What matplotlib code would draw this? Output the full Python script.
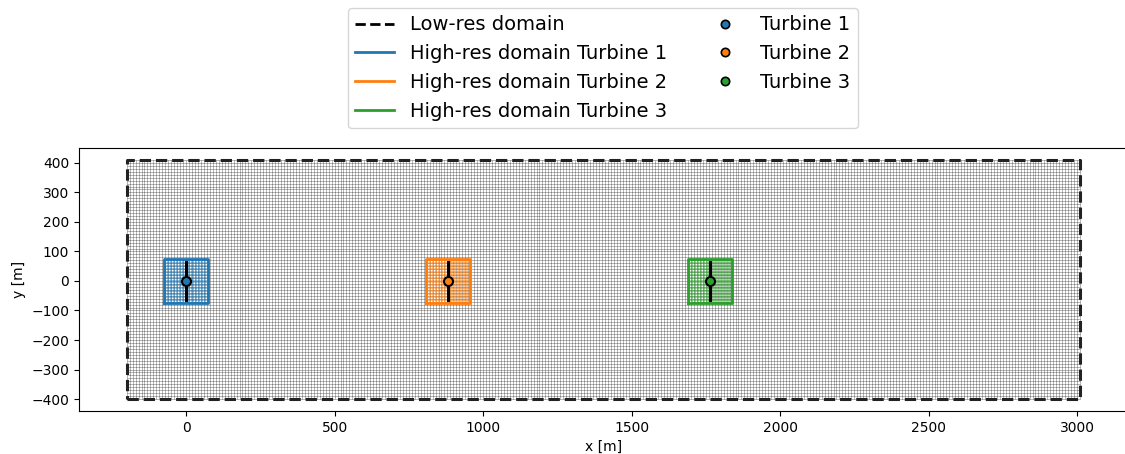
import matplotlib
matplotlib.use("Agg")
import matplotlib.pyplot as plt
import numpy as np
from matplotlib.lines import Line2D

# low-res domain (m)
x_low = np.arange(-200, 3011, 10)
y_low = np.arange(-400, 411, 10)

# turbines
turb_names = ["Turbine 1", "Turbine 2", "Turbine 3"]
turb_x = [0, 882, 1764]
turb_y = [0, 0, 0]
rotor_d = 126
hr_half = 75
hr_dx = 5
colors = ["#1f77b4", "#ff7f0e", "#2ca02c"]

fig = plt.figure(figsize=(11.25, 4.54), dpi=100)
ax = fig.add_axes([79 / 1125, 43 / 454, 1048.7 / 1125, 263 / 454])

# low-res mesh
ax.vlines(x_low, y_low[0], y_low[-1], color="k", lw=0.5, alpha=0.4, zorder=1)
ax.hlines(y_low, x_low[0], x_low[-1], color="k", lw=0.5, alpha=0.4, zorder=1)
ax.plot([x_low[0], x_low[-1], x_low[-1], x_low[0], x_low[0]],
        [y_low[0], y_low[0], y_low[-1], y_low[-1], y_low[0]],
        "--", color="#222222", lw=2.2, zorder=4, label="Low-res domain")

for i, (xt, yt) in enumerate(zip(turb_x, turb_y)):
    xh = np.arange(xt - hr_half, xt + hr_half + 1, hr_dx)
    yh = np.arange(yt - hr_half, yt + hr_half + 1, hr_dx)
    ax.vlines(xh, yh[0], yh[-1], color=colors[i], lw=0.5, alpha=0.6, zorder=2)
    ax.hlines(yh, xh[0], xh[-1], color=colors[i], lw=0.5, alpha=0.6, zorder=2)
    ax.plot([xh[0], xh[-1], xh[-1], xh[0], xh[0]],
            [yh[0], yh[0], yh[-1], yh[-1], yh[0]],
            "-", color=colors[i], lw=2, zorder=3)
    ax.plot([xt, xt], [yt - rotor_d / 2, yt + rotor_d / 2], "k-", lw=2.2, zorder=5)
    ax.plot(xt, yt, "o", ms=6.5, mfc=colors[i], mec="k", mew=1.5, zorder=6)

ax.set_xlim(-360.5, 3170.5)
ax.set_ylim(-440.5, 450.5)
ax.set_xlabel("x [m]")
ax.set_ylabel("y [m]")

handles = [Line2D([], [], color="k", ls="--", lw=2, label="Low-res domain")]
for i in range(3):
    handles.append(Line2D([], [], color=colors[i], lw=2,
                          label="High-res domain " + turb_names[i]))
for i in range(3):
    handles.append(Line2D([], [], color=colors[i], ls="none", marker="o", ms=6,
                          mec="k", mew=1.2, label=turb_names[i]))
# pad so turbines go in the second column
handles_c1 = handles[:4]
handles_c2 = handles[4:] + [Line2D([], [], ls="none", label="")]
fig.legend(handles=handles_c1 + handles_c2, loc="upper center", ncol=2,
           bbox_to_anchor=(603 / 1125, 1 + 2 / 454), fontsize=14,
           columnspacing=2.0, handlelength=2.0)

fig.savefig("out.png", dpi=100)
